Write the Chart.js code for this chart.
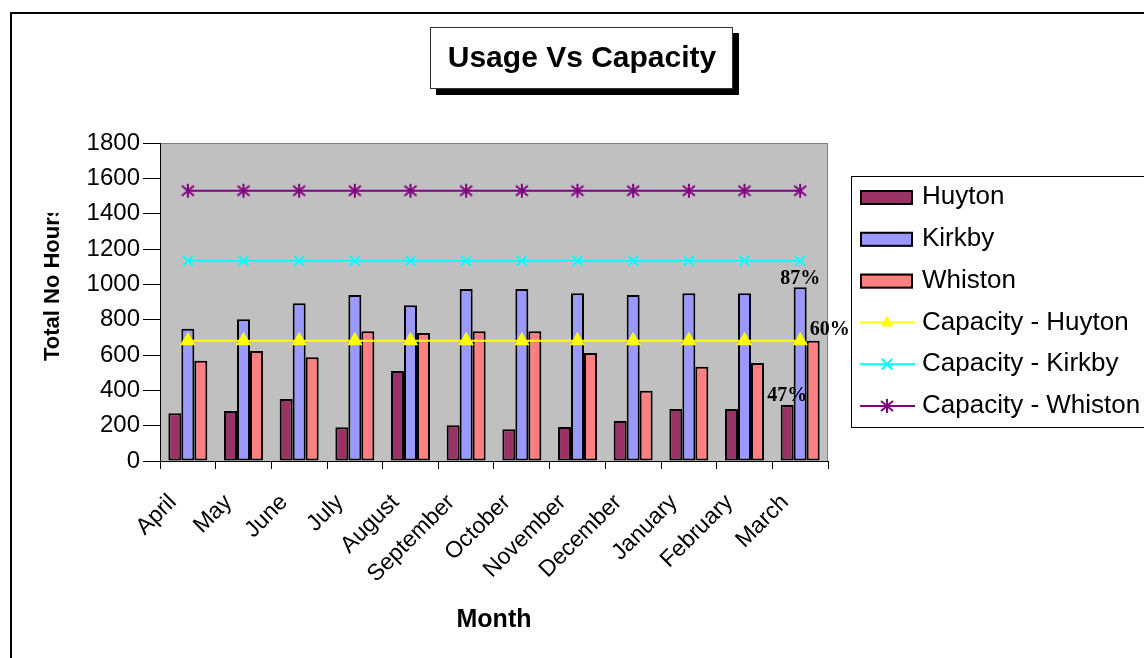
<!DOCTYPE html>
<html>
<head>
<meta charset="utf-8">
<title>Usage Vs Capacity</title>
<script src="https://cdn.jsdelivr.net/npm/chart.js@4.4.1/dist/chart.umd.min.js"></script>
<style>
  html, body { margin: 0; padding: 0; background: #fff; }
  #wrap { width: 1144px; height: 658px; }
</style>
</head>
<body>
<div id="wrap"><canvas id="usage" width="1144" height="658"></canvas></div>
<script>
var months = ['April', 'May', 'June', 'July', 'August', 'September', 'October',
              'November', 'December', 'January', 'February', 'March'];

// hours used per month
var huyton  = [270, 283, 351, 191, 510, 202, 180, 193, 227, 295, 295, 317];
var kirkby  = [748, 803, 893, 940, 882, 973, 973, 950, 940, 950, 950, 984];
var whiston = [567, 623, 587, 735, 725, 735, 735, 612, 397, 533, 555, 680];

// capacity per site
var capHuyton  = [680, 680, 680, 680, 680, 680, 680, 680, 680, 680, 680, 680];
var capKirkby  = [1133, 1133, 1133, 1133, 1133, 1133, 1133, 1133, 1133, 1133, 1133, 1133];
var capWhiston = [1530, 1530, 1530, 1530, 1530, 1530, 1530, 1530, 1530, 1530, 1530, 1530];

// % labels on the March bars (Huyton, Kirkby, Whiston)
var marchLabels = ['47%', '87%', '60%'];

var yMin = 0, yMax = 1800, yStep = 200;

var SANS = '"Liberation Sans", Arial, sans-serif';
var SERIF = '"Liberation Serif", "Times New Roman", serif';

// excel style asterisk marker (vertical bar + x)
function asterisk(color) {
    var c = document.createElement('canvas');
    c.width = 16; c.height = 16;
    var g = c.getContext('2d');
    g.strokeStyle = color;
    g.lineWidth = 2;
    g.beginPath();
    g.moveTo(8, 1); g.lineTo(8, 15);
    g.moveTo(2, 3); g.lineTo(14, 13);
    g.moveTo(14, 3); g.lineTo(2, 13);
    g.stroke();
    return c;
}
var starMark = asterisk('#800080');

function drawMarker(ctx, style, x, y, r, color) {
    ctx.save();
    ctx.strokeStyle = color;
    ctx.fillStyle = color;
    ctx.lineWidth = 2;
    if (style === 'triangle') {
        ctx.beginPath();
        ctx.moveTo(x, y - r);
        ctx.lineTo(x + r * 0.87, y + r * 0.6);
        ctx.lineTo(x - r * 0.87, y + r * 0.6);
        ctx.closePath();
        ctx.fill();
    } else if (style === 'crossRot') {
        var d = r * 0.75;
        ctx.beginPath();
        ctx.moveTo(x - d, y - d); ctx.lineTo(x + d, y + d);
        ctx.moveTo(x + d, y - d); ctx.lineTo(x - d, y + d);
        ctx.stroke();
    } else if (style instanceof HTMLCanvasElement) {
        ctx.drawImage(style, x - style.width / 2, y - style.height / 2);
    }
    ctx.restore();
}

var sheetDecor = {
    id: 'sheetDecor',
    beforeDraw: function(chart) {
        var ctx = chart.ctx, a = chart.chartArea;
        ctx.save();
        ctx.fillStyle = '#fff';
        ctx.fillRect(0, 0, chart.width, chart.height);

        // outer frame (only top / left visible)
        ctx.fillStyle = '#000';
        ctx.fillRect(10, 12, 2, chart.height);
        ctx.fillRect(10, 12, chart.width, 2);

        // plot area
        ctx.fillStyle = '#c0c0c0';
        ctx.fillRect(a.left, a.top, a.right - a.left, a.bottom - a.top);
        ctx.strokeStyle = '#808080';
        ctx.lineWidth = 1;
        ctx.strokeRect(a.left + 0.5, a.top + 0.5, a.right - a.left - 1, a.bottom - a.top);

        // title box with shadow
        ctx.fillStyle = '#000';
        ctx.fillRect(436, 33, 303, 62);
        ctx.fillStyle = '#fff';
        ctx.fillRect(430, 27, 303, 62);
        ctx.strokeStyle = '#333';
        ctx.strokeRect(430.5, 27.5, 302, 61);
        ctx.fillStyle = '#000';
        ctx.font = 'bold 30px ' + SANS;
        ctx.textAlign = 'center';
        ctx.textBaseline = 'middle';
        ctx.fillText('Usage Vs Capacity', 582, 59);
        ctx.restore();
    },
    afterDatasetsDraw: function(chart) {
        var ctx = chart.ctx;
        var last = months.length - 1;
        ctx.save();
        ctx.font = 'bold 20px ' + SERIF;
        ctx.fillStyle = '#000';
        ctx.textBaseline = 'alphabetic';
        var h = chart.getDatasetMeta(0).data[last];
        var k = chart.getDatasetMeta(1).data[last];
        var w = chart.getDatasetMeta(2).data[last];
        ctx.textAlign = 'center';
        ctx.fillText(marchLabels[0], h.x, h.y - 4);
        ctx.fillText(marchLabels[1], k.x, k.y - 3);
        ctx.textAlign = 'left';
        ctx.fillText(marchLabels[2], w.x - w.width / 2 + 3, w.y - 6);
        ctx.restore();
    },
    afterDraw: function(chart) {
        var ctx = chart.ctx;
        ctx.save();

        // y axis title, clipped like the original
        ctx.save();
        ctx.beginPath();
        ctx.rect(0, 213, 150, 445);
        ctx.clip();
        ctx.translate(53, 361);
        ctx.rotate(-Math.PI / 2);
        ctx.font = 'bold 22px ' + SANS;
        ctx.fillStyle = '#000';
        ctx.textAlign = 'left';
        ctx.textBaseline = 'middle';
        ctx.fillText('Total No Hours', 0, 0);
        ctx.restore();

        // legend box
        ctx.fillStyle = '#fff';
        ctx.fillRect(851, 176, 400, 251);
        ctx.strokeStyle = '#000';
        ctx.lineWidth = 1;
        ctx.strokeRect(851.5, 176.5, 400, 251);

        ctx.font = '26px ' + SANS;
        ctx.textAlign = 'left';
        ctx.textBaseline = 'middle';
        chart.data.datasets.forEach(function(ds, i) {
            var cy = 197 + i * 41.8;
            if (ds.type === 'bar') {
                ctx.fillStyle = ds.backgroundColor;
                ctx.fillRect(860, cy - 7, 53, 15);
                ctx.lineWidth = 2;
                ctx.strokeStyle = '#000';
                ctx.strokeRect(861, cy - 6, 51, 13);
            } else {
                ctx.strokeStyle = ds.borderColor;
                ctx.lineWidth = 2;
                ctx.beginPath();
                ctx.moveTo(860, cy);
                ctx.lineTo(915, cy);
                ctx.stroke();
                drawMarker(ctx, ds.pointStyle, 887, cy, 7, ds.borderColor);
            }
            ctx.fillStyle = '#000';
            ctx.fillText(ds.label, 922, cy);
        });
        ctx.restore();
    }
};

function barSet(label, data, color) {
    return {
        type: 'bar', label: label, data: data, order: 1,
        backgroundColor: color, borderColor: '#000', borderWidth: 2,
        borderSkipped: false,
        categoryPercentage: 0.7, barPercentage: 1.0
    };
}

function lineSet(label, data, color, style) {
    return {
        type: 'line', label: label, data: data, order: 0,
        borderColor: color, backgroundColor: color, borderWidth: 2,
        pointStyle: style, pointRadius: 7, pointHoverRadius: 7,
        pointBorderWidth: 2, pointBackgroundColor: color, pointBorderColor: color,
        fill: false, tension: 0
    };
}

var ctx = document.getElementById('usage').getContext('2d');
var usageChart = new Chart(ctx, {
    data: {
        labels: months,
        datasets: [
            barSet('Huyton', huyton, '#993366'),
            barSet('Kirkby', kirkby, '#9999ff'),
            barSet('Whiston', whiston, '#ff8080'),
            lineSet('Capacity - Huyton', capHuyton, '#ffff00', 'triangle'),
            lineSet('Capacity - Kirkby', capKirkby, '#00ffff', 'crossRot'),
            lineSet('Capacity - Whiston', capWhiston, '#800080', starMark)
        ]
    },
    options: {
        responsive: false,
        animation: false,
        layout: { padding: { top: 143, right: 316, bottom: 0, left: 0 } },
        plugins: {
            legend: { display: false },
            tooltip: { enabled: false }
        },
        scales: {
            x: {
                grid: { drawOnChartArea: false, tickLength: 8, color: '#000', offset: true },
                border: { color: '#000', width: 1 },
                ticks: {
                    color: '#000', font: { family: SANS, size: 23 },
                    minRotation: 45, maxRotation: 45, autoSkip: false,
                    padding: 20, labelOffset: -15
                },
                title: {
                    display: true, text: 'Month', color: '#000',
                    font: { family: SANS, size: 25, weight: 'bold' },
                    padding: { top: 0, bottom: 23 }
                },
                afterFit: function(scale) { scale.height = 197; }
            },
            y: {
                min: yMin, max: yMax,
                grid: { drawOnChartArea: false, tickLength: 17, color: '#000' },
                border: { color: '#000', width: 1 },
                ticks: {
                    stepSize: yStep, color: '#000', padding: 3,
                    font: { family: SANS, size: 24 },
                    callback: function(v) { return String(v); }
                },
                afterFit: function(scale) { scale.width = 160; }
            }
        }
    },
    plugins: [sheetDecor]
});
</script>
</body>
</html>
